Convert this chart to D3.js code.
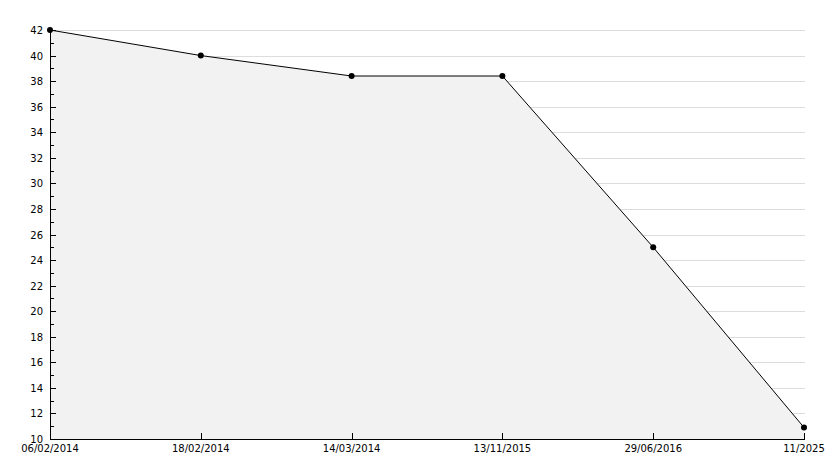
<!DOCTYPE html>
<html>
<head>
<meta charset="utf-8">
<script src="https://cdn.jsdelivr.net/npm/d3@7"></script>
<style>
	html, body { margin: 0; padding: 0; background: #fff; }
	text { font-family: "DejaVu Sans", sans-serif; font-size: 10px; fill: #000; }
</style>
</head>
<body>
<svg id="chart" width="834" height="468"></svg>
<script>
const dates = ["06/02/2014", "18/02/2014", "14/03/2014", "13/11/2015", "29/06/2016", "11/2025"];
const values = [42, 40, 38.4, 38.4, 25, 10.9];
const yTicks = d3.range(10, 43, 2);
const yMinor = d3.range(11, 42, 2);

const svg = d3.select("#chart");
const plotLeft = 50, plotRight = 805, plotTop = 30, plotBottom = 439;

const x = d3.scalePoint().domain(d3.range(dates.length)).range([plotLeft, plotRight - 1]);
const y = d3.scaleLinear().domain([10, 42]).range([plotBottom, plotTop]);

const points = values.map((v, i) => ({ i, v }));

// grille
svg.append("g")
	.attr("shape-rendering", "crispEdges")
	.selectAll("line")
	.data(yTicks.filter(t => t > 10))
	.join("line")
	.attr("x1", plotLeft).attr("x2", plotRight)
	.attr("y1", d => Math.round(y(d)) + 0.5)
	.attr("y2", d => Math.round(y(d)) + 0.5)
	.attr("stroke", "#dddddd");

// surface
const area = d3.area()
	.x(d => x(d.i))
	.y0(plotBottom)
	.y1(d => y(d.v));
svg.append("path").datum(points).attr("d", area).attr("fill", "#f2f2f2");

// axe y
const yAxis = svg.append("g").attr("shape-rendering", "crispEdges");
yAxis.append("line")
	.attr("x1", plotLeft + 0.5).attr("x2", plotLeft + 0.5)
	.attr("y1", plotTop).attr("y2", plotBottom)
	.attr("stroke", "#000");
yAxis.selectAll(".major")
	.data(yTicks)
	.join("line")
	.attr("class", "major")
	.attr("x1", plotLeft).attr("x2", plotLeft + 6)
	.attr("y1", d => Math.round(y(d)) + 0.5)
	.attr("y2", d => Math.round(y(d)) + 0.5)
	.attr("stroke", "#000");
yAxis.selectAll(".minor")
	.data(yMinor)
	.join("line")
	.attr("class", "minor")
	.attr("x1", plotLeft).attr("x2", plotLeft + 4)
	.attr("y1", d => Math.round(y(d)) + 0.5)
	.attr("y2", d => Math.round(y(d)) + 0.5)
	.attr("stroke", "#000");
yAxis.selectAll("text")
	.data(yTicks)
	.join("text")
	.attr("x", plotLeft - 7)
	.attr("y", d => y(d) + 4)
	.attr("text-anchor", "end")
	.text(d => d);

// axe x
const xAxis = svg.append("g").attr("shape-rendering", "crispEdges");
xAxis.append("line")
	.attr("x1", plotLeft).attr("x2", plotRight)
	.attr("y1", plotBottom + 0.5).attr("y2", plotBottom + 0.5)
	.attr("stroke", "#000");
xAxis.selectAll(".tick")
	.data(d3.range(dates.length))
	.join("line")
	.attr("class", "tick")
	.attr("x1", d => Math.round(x(d)) + 0.5)
	.attr("x2", d => Math.round(x(d)) + 0.5)
	.attr("y1", plotBottom).attr("y2", plotBottom - 6)
	.attr("stroke", "#000");
xAxis.selectAll("text")
	.data(dates)
	.join("text")
	.attr("x", (d, i) => x(i))
	.attr("y", plotBottom + 13)
	.attr("text-anchor", "middle")
	.text(d => d);

// courbe
const line = d3.line().x(d => x(d.i)).y(d => y(d.v));
svg.append("path").datum(points)
	.attr("d", line)
	.attr("fill", "none")
	.attr("stroke", "#000")
	.attr("stroke-width", 1);

svg.append("g")
	.selectAll("circle")
	.data(points)
	.join("circle")
	.attr("cx", d => x(d.i))
	.attr("cy", d => y(d.v))
	.attr("r", 3)
	.attr("fill", "#000");
</script>
</body>
</html>
